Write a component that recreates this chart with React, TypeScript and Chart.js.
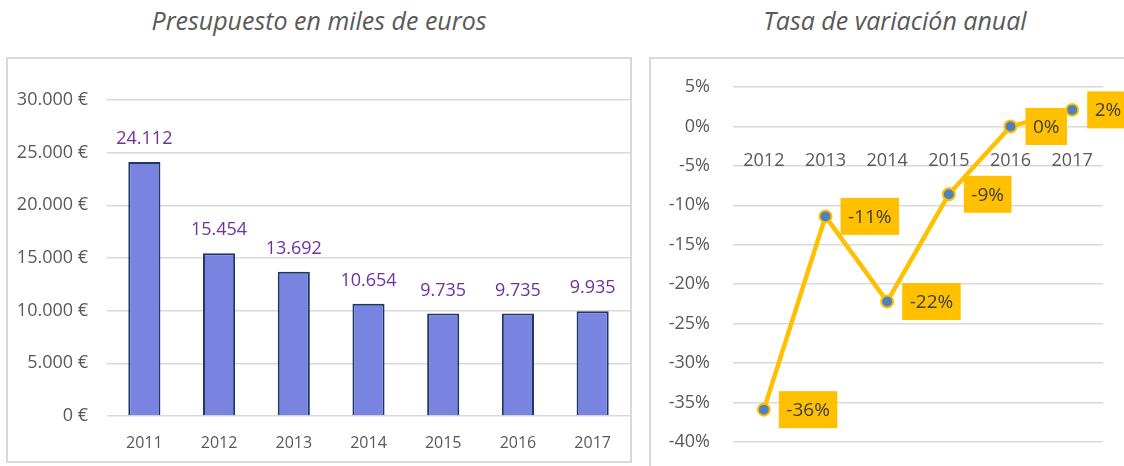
import React, { useEffect, useRef } from "react";
import { Chart, registerables } from "chart.js";

Chart.register(...registerables);

// ---- Data ----
const years = ["2011", "2012", "2013", "2014", "2015", "2016", "2017"];
const budget = [24112, 15454, 13692, 10654, 9735, 9735, 9935];
const budgetMin = 0;
const budgetMax = 30000;
const budgetStep = 5000;

const rateYears = ["2012", "2013", "2014", "2015", "2016", "2017"];
const rates = [-35.9, -11.4, -22.2, -8.6, 0, 2.1];
const rateMin = -40;
const rateMax = 5;
const rateStep = 5;

const FONT = '"Open Sans", "Noto Sans", sans-serif';
const GRAY = "#595959";
const GRID = "#D9D9D9";

Chart.defaults.font.family = FONT;

const fmtThousands = (n: number) =>
  String(Math.round(n)).replace(/\B(?=(\d{3})+(?!\d))/g, ".");

const barLabelPlugin = {
  id: "barLabels",
  afterDatasetsDraw(chart: any) {
    const ctx = chart.ctx;
    const meta = chart.getDatasetMeta(0);
    ctx.save();
    ctx.font = `18px ${FONT}`;
    ctx.fillStyle = "#7030A0";
    ctx.textAlign = "center";
    ctx.textBaseline = "middle";
    meta.data.forEach((bar: any, i: number) => {
      ctx.fillText(fmtThousands(budget[i]), bar.x, bar.y - 23);
    });
    ctx.restore();
  },
};

const rateLabelPlugin = {
  id: "rateLabels",
  afterDatasetsDraw(chart: any) {
    const ctx = chart.ctx;
    const meta = chart.getDatasetMeta(0);
    ctx.save();
    ctx.font = `19px ${FONT}`;
    meta.data.forEach((pt: any, i: number) => {
      const text = (Math.round(rates[i]) + "%").replace("-0", "0");
      const w = ctx.measureText(text).width + 15;
      const h = 37;
      const x = pt.x + 15;
      const y = pt.y - h / 2;
      ctx.fillStyle = "#FFC000";
      ctx.fillRect(x, y, w, h);
      ctx.fillStyle = "#404040";
      ctx.textAlign = "center";
      ctx.textBaseline = "middle";
      ctx.fillText(text, x + w / 2, pt.y + 1);
    });
    ctx.restore();
  },
};

function BarChart() {
  const ref = useRef<HTMLCanvasElement>(null);
  useEffect(() => {
    const chart = new Chart(ref.current!, {
      type: "bar",
      data: {
        labels: years,
        datasets: [
          {
            data: budget,
            backgroundColor: "#7983E0",
            borderColor: "#1F3864",
            borderWidth: 2,
            barPercentage: 0.43,
            categoryPercentage: 1,
          },
        ],
      },
      options: {
        animation: false,
        responsive: false,
        maintainAspectRatio: false,
        layout: { padding: { top: 41, right: 0, left: 0, bottom: 0 } },
        plugins: { legend: { display: false }, tooltip: { enabled: false } },
        scales: {
          x: {
            grid: { display: false, drawTicks: false },
            border: { display: false },
            ticks: { color: GRAY, font: { size: 16 }, padding: 18 },
            afterFit: (s: any) => {
              s.height = 45;
            },
          },
          y: {
            min: budgetMin,
            max: budgetMax,
            ticks: {
              stepSize: budgetStep,
              color: GRAY,
              font: { size: 18 },
              padding: 19,
              callback: (v: any) => `${fmtThousands(Number(v))} €`,
            },
            grid: { color: GRID, lineWidth: 1.5, drawTicks: false },
            border: { display: false },
            afterFit: (s: any) => {
              s.width = 99;
            },
          },
        },
      } as any,
      plugins: [barLabelPlugin],
    });
    return () => chart.destroy();
  }, []);
  return (
    <canvas
      ref={ref}
      width={622}
      height={402}
      style={{ position: "absolute", left: 0, top: 0, width: 622, height: 402 }}
    />
  );
}

function LineChart() {
  const ref = useRef<HTMLCanvasElement>(null);
  useEffect(() => {
    const chart = new Chart(ref.current!, {
      type: "line",
      data: {
        labels: rateYears,
        datasets: [
          {
            data: rates,
            borderColor: "#FFC000",
            borderWidth: 4.5,
            pointRadius: 6,
            pointBackgroundColor: "#4F81BD",
            pointBorderColor: "#FFC000",
            pointBorderWidth: 2,
            tension: 0,
          },
        ],
      },
      options: {
        animation: false,
        responsive: false,
        maintainAspectRatio: false,
        layout: { padding: { top: 28, right: 21, left: 0, bottom: 24 } },
        plugins: { legend: { display: false }, tooltip: { enabled: false } },
        scales: {
          x: {
            position: { y: 0 },
            offset: true,
            grid: { display: false, drawTicks: false },
            border: { display: false },
            ticks: { color: GRAY, font: { size: 18 }, padding: 24 },
          },
          y: {
            min: rateMin,
            max: rateMax,
            ticks: {
              stepSize: rateStep,
              color: GRAY,
              font: { size: 18 },
              padding: 23,
              callback: (v: any) => `${v}%`,
            },
            grid: { color: GRID, lineWidth: 1.5, drawTicks: false },
            border: { display: false },
            afterFit: (s: any) => {
              s.width = 82;
              s.paddingTop = 0;
              s.paddingBottom = 0;
            },
          },
        },
      } as any,
      plugins: [rateLabelPlugin],
    });
    return () => chart.destroy();
  }, []);
  return (
    <canvas
      ref={ref}
      width={473}
      height={407}
      style={{ position: "absolute", left: 0, top: 0, width: 473, height: 407 }}
    />
  );
}

const titleStyle: React.CSSProperties = {
  position: "absolute",
  top: 3,
  textAlign: "center",
  fontFamily: FONT,
  fontStyle: "italic",
  fontSize: 25,
  lineHeight: "34px",
  color: GRAY,
  whiteSpace: "nowrap",
};

export default function App() {
  return (
    <div
      style={{
        position: "fixed",
        left: 0,
        top: 0,
        width: 1124,
        height: 466,
        overflow: "hidden",
        background: "#fff",
      }}
    >
      <div style={{ ...titleStyle, left: 6, width: 626 }}>Presupuesto en miles de euros</div>
      <div
        style={{
          position: "absolute",
          left: 6,
          top: 57,
          width: 626,
          height: 406,
          boxSizing: "border-box",
          border: `2px solid ${GRID}`,
        }}
      >
        <BarChart />
      </div>
      <div style={{ ...titleStyle, left: 649, width: 492 }}>Tasa de variación anual</div>
      <div
        style={{
          position: "absolute",
          left: 649,
          top: 57,
          width: 500,
          height: 430,
          boxSizing: "border-box",
          border: `2px solid ${GRID}`,
        }}
      >
        <LineChart />
      </div>
    </div>
  );
}
